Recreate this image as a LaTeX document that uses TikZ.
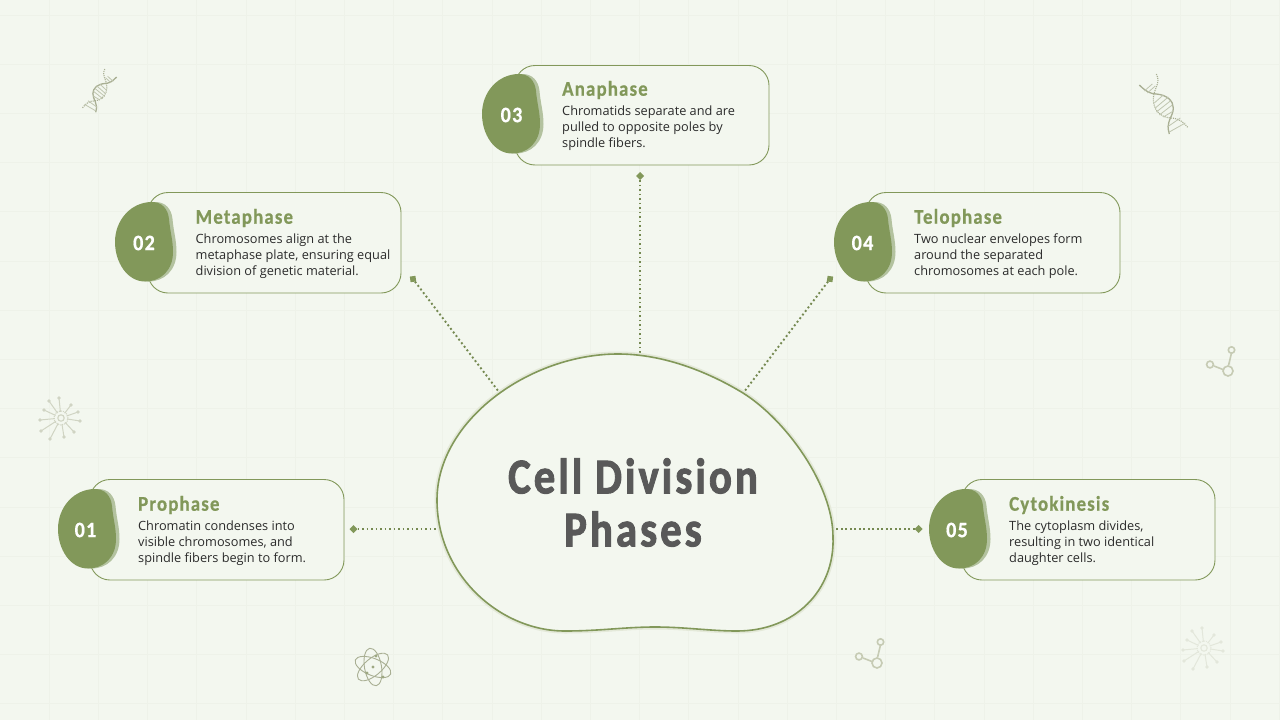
\documentclass[tikz,border=0pt]{standalone}
\usepackage{fontspec}
\usetikzlibrary{shapes.geometric}
\setmainfont{Open Sans}
\newfontfamily\headfont[LetterSpace=6,FakeBold=0.6]{Carlito}
\newfontfamily\titlefont[LetterSpace=7,FakeBold=2]{Carlito}
\definecolor{bgc}{HTML}{F3F7EF}
\definecolor{gridc}{HTML}{EEF2E9}
\definecolor{olive}{HTML}{82985A}
\definecolor{olivelt}{HTML}{B3C29F}
\definecolor{glowc}{HTML}{E4E9D9}
\definecolor{bodyc}{HTML}{2B2B2B}
\definecolor{titlec}{HTML}{595959}
\definecolor{iconc}{HTML}{C6CBB4}
\definecolor{dnac}{HTML}{A9AF93}
\definecolor{burstc}{HTML}{D0D4C3}
\def\badgeoutline{(37,-40) .. controls (47,-40) and (53,-33) .. (54,-23) .. controls (55,-11) and (58,-2) .. (58,10) .. controls (58,28) and (46,39.5) .. (30,39.5) .. controls (12,39.5) and (0,20) .. (0,0) .. controls (0,-22) and (16,-40) .. (37,-40) -- cycle}
\def\cellblob{(618,354) .. controls (665,354) and (710,373) .. (743,393) .. controls (786,420) and (833,485) .. (833,537) .. controls (835,590) and (795,631) .. (737,631) .. controls (710,631) and (685,627) .. (655,627) .. controls (625,627) and (600,631) .. (565,631) .. controls (500,631) and (437,575) .. (437,500) .. controls (437,420) and (530,354) .. (618,354) -- cycle}
\tikzset{
 card/.style={draw=olive,line width=0.9pt,fill=bgc,rounded corners=20pt},
 num/.style={text=white,font=\headfont\bfseries\fontsize{22}{26}\selectfont,inner sep=0pt,xscale=0.92,transform shape},
 head/.style={text=olive,anchor=west,inner sep=0pt,font=\headfont\bfseries\fontsize{21}{25}\selectfont,xscale=0.9,transform shape},
 body/.style={text=bodyc,anchor=north west,inner sep=0pt,align=left,font=\fontsize{12.75}{16}\selectfont},
 dotline/.style={draw=olive!90!black,line width=1.9pt,dash pattern=on 1.9pt off 2.6pt},
 tip/.style={diamond,fill=olive,minimum size=8pt,inner sep=0pt,outer sep=0pt},
 bigtitle/.style={text=titlec,inner sep=0pt,font=\titlefont\bfseries\fontsize{50}{60}\selectfont,xscale=0.856,transform shape},
 badge/.pic={
  \fill[olivelt,xshift=3.5pt] \badgeoutline;
  \fill[olive] \badgeoutline;
 },
 molecule/.pic={
  \draw[iconc,line width=1.6pt] (3.5,-18) -- (0.5,-5.5) (-14,-5) -- (-5,-1.5);
  \draw[iconc,line width=1.6pt,fill=bgc] (3.5,-21) circle[radius=3.2pt] (-18,-6.5) circle[radius=3.4pt] (0,0) circle[radius=5pt];
 },
 burst/.pic={
  \foreach \a/\b in {-2/-20,10/-13,17/-6,19/3,13/14,3/19,-11/21,-20/13,-21/2,-17/-8,-12/-17}{
   \draw[burstc,line width=1pt] (0,0) -- (\a,\b);
   \fill[burstc] (\a,\b) circle[radius=1.9pt];
  }
  \fill[bgc] (0,0) circle[radius=6pt];
  \draw[burstc,line width=1pt,densely dotted] (0,0) circle[radius=7pt];
  \draw[burstc,line width=1.1pt] (0,0) circle[radius=3.2pt];
 },
 atom/.pic={
  \foreach \r in {-22,40,100}{
   \draw[dnac,line width=0.9pt,rotate=\r] (0,0) ellipse[x radius=19pt,y radius=8.5pt];
  }
  \fill[dnac!70!olive] (0,0) circle[radius=1.7pt] (3,-11) circle[radius=1.7pt] (-6,6) circle[radius=1.7pt] (10,10) circle[radius=1.7pt];
 },
 dna/.pic={
  \draw[dnac,line width=1.3pt] (0,0) .. controls (7,7) and (12,9) .. (17,9) .. controls (28,10) and (34,16) .. (34,23) .. controls (34,32) and (26,36) .. (30,49);
  \draw[dnac,line width=1.1pt,densely dotted] (17,-11) .. controls (22,-2) and (14,4) .. (14,14) .. controls (14,24) and (20,32) .. (31,33) .. controls (40,33) and (45,38) .. (49,43);
  \foreach \x/\y/\u/\v in {5/6/13/-1, 8/8/16/1, 15/18/24/10, 16/23/29/12, 17/27/31/16, 20/30/33/20, 24/32/34/26, 28/42/41/33, 30/47/46/38}{
   \draw[dnac!70!bgc,line width=0.8pt] (\x,\y) -- (\u,\v);
  }
 }
}
\begin{document}
\begin{tikzpicture}[x=1pt,y=-1pt]
\useasboundingbox (0,0) rectangle (1280,720);
\fill[bgc] (0,0) rectangle (1280,720);
% grid
\foreach \k in {1,...,26}{\draw[gridc,line width=1pt] ({\k*49.2},0) -- ({\k*49.2},720);}
\foreach \k in {0,...,14}{\draw[gridc,line width=1pt] (0,{15+\k*49.2}) -- (1280,{15+\k*49.2});}
% icons
\pic[xscale=-0.7,yscale=0.72] at (116.7,77) {dna};
\pic at (1139.3,85) {dna};
\pic at (61,418) {burst};
\begin{scope}
\definecolor{burstc}{HTML}{E3E7DB}
\pic at (1204,648) {burst};
\end{scope}
\pic at (373,667) {atom};
\pic at (877,663) {molecule};
\pic at (1228,371) {molecule};
% anchors on the central cell
\coordinate (c1) at (437,529);
\coordinate (c2) at (499,392);
\coordinate (c3) at (640,354);
\coordinate (c4) at (744,392);
\coordinate (c5) at (834,529);
% tips
\node[tip] (t1) at (353.5,529) {};
\node[tip,rotate=-37] (t2) at (413,279) {};
\node[tip] (t3) at (640,176) {};
\node[tip,rotate=37] (t4) at (830,279) {};
\node[tip] (t5) at (918.5,529) {};
\foreach \a/\b in {t1/c1,t2/c2,t3/c3,t4/c4,t5/c5}{\draw[dotline] (\a) -- (\b);}
% central cell
\draw[glowc,line width=5pt] \cellblob;
\draw[draw=olive,line width=1.6pt,fill=bgc] \cellblob;
\node[bigtitle] (title1) at (633,476) {Cell Division};
\node[bigtitle] (title2) at (633,529) {Phases};
% cards
\draw[card] (90,479.5) rectangle (344,580);
\pic at (58,529) {badge};
\node[num] (n1) at (85.5,530) {01};
\node[head] (h1) at (138,505) {Prophase};
\node[body] (b1) at (138,520.5) {Chromatin condenses into\\visible chromosomes, and\\spindle fibers begin to form.};

\draw[card] (148,192.5) rectangle (401,293);
\pic at (115,242) {badge};
\node[num] (n2) at (144,243) {02};
\node[head] (h2) at (195.5,218) {Metaphase};
\node[body] (b2) at (195.5,233.5) {Chromosomes align at the\\metaphase plate, ensuring equal\\division of genetic material.};

\draw[card] (515,65.5) rectangle (769,165);
\pic at (482,114) {badge};
\node[num] (n3) at (511.5,115) {03};
\node[head] (h3) at (562,90) {Anaphase};
\node[body] (b3) at (562,105.5) {Chromatids separate and are\\pulled to opposite poles by\\spindle fibers.};

\draw[card] (866,192.5) rectangle (1120,293);
\pic at (834,242) {badge};
\node[num] (n4) at (862.5,243) {04};
\node[head] (h4) at (914,218) {Telophase};
\node[body] (b4) at (914,233.5) {Two nuclear envelopes form\\around the separated\\chromosomes at each pole.};

\draw[card] (962,479.5) rectangle (1215,580);
\pic at (929,529) {badge};
\node[num] (n5) at (957,530) {05};
\node[head] (h5) at (1009,505) {Cytokinesis};
\node[body] (b5) at (1009,520.5) {The cytoplasm divides,\\resulting in two identical\\daughter cells.};
\end{tikzpicture}
\end{document}
